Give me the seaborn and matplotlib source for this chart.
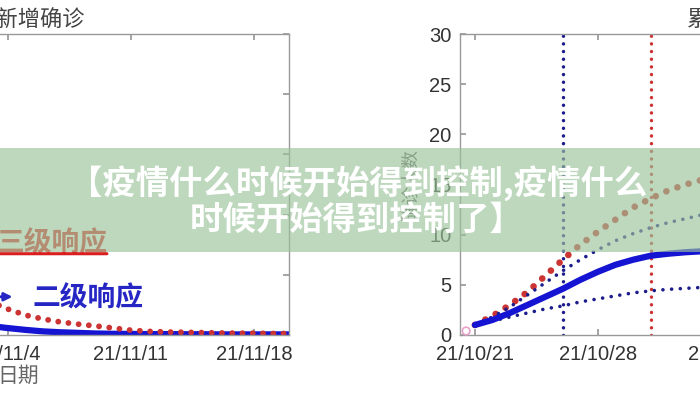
import pandas as pd
import matplotlib.pyplot as plt
from matplotlib.patches import Rectangle
import seaborn as sns

# cumulative confirmed cases (right panel), one value per day from 2021-10-21
cum_dates = pd.date_range("2021-10-21", periods=15)
cum_fit = [1.0, 1.5, 2.2, 3.0, 3.8, 4.6, 5.5, 6.3, 7.0, 7.5, 7.9, 8.1, 8.25, 8.35, 8.4]
cum_upper = [1.0, 1.8, 2.8, 4.0, 5.2, 6.4, 7.5, 8.5, 9.4, 10.1, 10.7, 11.2, 11.6, 12.0, 12.3]
cum_lower = [1.0, 1.4, 1.8, 2.2, 2.6, 2.9, 3.3, 3.6, 3.9, 4.2, 4.4, 4.55, 4.65, 4.75, 4.8]
cum_no_control = [1.0, 1.9, 3.0, 4.3, 5.9, 7.5, 9.0, 10.3, 11.5, 12.7, 13.6, 14.4, 15.0, 15.5, 15.9]
first_obs_date = pd.Timestamp("2021-10-20 12:00")
first_obs_value = 0.4

# daily new cases (left panel), one value per day from 2021-11-03
new_dates = pd.date_range("2021-11-03", periods=18)
new_fit = [3.0, 2.3, 1.7, 1.2, 0.9, 0.7, 0.5, 0.4, 0.35, 0.3, 0.3, 0.25, 0.25, 0.2, 0.2, 0.2, 0.2, 0.2]
new_no_control = [11.0, 8.6, 6.6, 5.3, 4.3, 3.6, 3.0, 2.3, 1.6, 1.2, 1.0, 0.9, 0.8, 0.7, 0.6, 0.6, 0.5, 0.5]

# response levels
level2_date = pd.Timestamp("2021-10-26")
level3_date = pd.Timestamp("2021-10-31")

tick_dates = pd.to_datetime(["2021-10-21", "2021-10-28", "2021-11-04", "2021-11-11", "2021-11-18"])
tick_labels = ["21/10/21", "21/10/28", "21/11/4", "21/11/11", "21/11/18"]
x_range = (pd.Timestamp("2021-10-20 03:36"), pd.Timestamp("2021-11-20"))

sns.set_theme(style="ticks")
plt.rcParams["font.family"] = ["Liberation Sans", "Noto Sans CJK SC", "DejaVu Sans"]

blue = "#1414d2"
navy = "#1c1c8c"
red = "#cc3434"
dots = (0, (0.01, 1.75))

fig = plt.figure(figsize=(7, 4), dpi=100)
ax_new = fig.add_axes([-0.3614, 0.1625, 0.7743, 0.7525])
ax_cum = fig.add_axes([0.6571, 0.1625, 0.7743, 0.7525])

# left: daily new cases
sns.lineplot(x=new_dates, y=new_fit, ax=ax_new, color=blue, lw=4.5)
sns.lineplot(x=new_dates, y=new_no_control, ax=ax_new, color=red, lw=4.2,
             linestyle=dots, dash_capstyle="round")
ax_new.axvline(level2_date, color=navy, lw=2.5, linestyle=(0, (0.01, 2.2)), dash_capstyle="round")
ax_new.axvline(level3_date, color=red, lw=2.5, linestyle=(0, (0.01, 2.2)), dash_capstyle="round")
ax_new.set_ylim(0, 100)
ax_new.set_yticks(range(0, 101, 20))
ax_new.set_title("每日新增确诊", fontsize=16, color="#444", pad=5)

ax_new.text(pd.Timestamp("2021-11-06 12:00"), 30.0, "三级响应", color="#e02828",
            fontsize=20, fontweight="bold", ha="center", va="center")
ax_new.annotate("", xy=(pd.Timestamp("2021-11-01"), 27), xytext=(pd.Timestamp("2021-11-09 19:00"), 27),
                arrowprops=dict(arrowstyle="-|>", color="#d81e1e", lw=2.2))
ax_new.text(pd.Timestamp("2021-11-08 14:00"), 12, "二级响应", color="#2626c4",
            fontsize=20, fontweight="bold", ha="center", va="center")
ax_new.annotate("", xy=(pd.Timestamp("2021-11-04 10:00"), 12.7), xytext=(pd.Timestamp("2021-11-02"), 12.7),
                arrowprops=dict(arrowstyle="-|>", color="#2626c4", lw=2))

# right: cumulative cases
ax_cum.axvline(level2_date, color=navy, lw=2.5, linestyle=(0, (0.01, 2.2)), dash_capstyle="round")
ax_cum.axvline(level3_date, color=red, lw=2.5, linestyle=(0, (0.01, 2.2)), dash_capstyle="round")
sns.lineplot(x=cum_dates, y=cum_no_control, ax=ax_cum, color=red, lw=4.8,
             linestyle=dots, dash_capstyle="round")
sns.lineplot(x=cum_dates, y=cum_upper, ax=ax_cum, color=navy, lw=2.6,
             linestyle=(0, (0.01, 2.4)), dash_capstyle="round")
sns.lineplot(x=cum_dates, y=cum_lower, ax=ax_cum, color=navy, lw=2.6,
             linestyle=(0, (0.01, 2.4)), dash_capstyle="round")
sns.lineplot(x=cum_dates, y=cum_fit, ax=ax_cum, color=blue, lw=4.5)
ax_cum.scatter([first_obs_date], [first_obs_value], s=30, facecolor="none",
               edgecolor="#e8a0c8", lw=1.2, zorder=5, clip_on=False)
ax_cum.set_ylim(0, 30)
ax_cum.set_yticks(range(0, 31, 5))
ax_cum.set_title("累计确诊", fontsize=16, color="#444", pad=5)
ax_cum.set_ylabel("确诊人数", fontsize=13, color="#666", labelpad=6)

for ax in (ax_new, ax_cum):
    ax.set_xlim(*x_range)
    ax.set_xticks(tick_dates)
    ax.set_xticklabels(tick_labels)
    ax.set_xlabel("日期", fontsize=15, color="#666", labelpad=2)
    for side in ax.spines.values():
        side.set_visible(True)
        side.set_color("#999")
        side.set_linewidth(1)
    ax.tick_params(direction="in", top=True, right=True, length=4, color="#999",
                   labelcolor="#333", labelsize=14.5)
    ax.tick_params(axis="x", pad=7)
    ax.tick_params(axis="y", pad=6)

# overlay banner
fig.add_artist(Rectangle((0, 0.37), 1, 0.26, transform=fig.transFigure,
                         facecolor="#9bc39b", alpha=0.65, edgecolor="none", zorder=10))
fig.text(0.512, 0.5425, "【疫情什么时候开始得到控制,疫情什么", color="white", fontsize=24,
         fontweight="heavy", ha="center", va="center", zorder=11,
         family=["Noto Sans CJK SC", "DejaVu Sans"])
fig.text(0.51, 0.45, "时候开始得到控制了】", color="white", fontsize=24,
         fontweight="heavy", ha="center", va="center", zorder=11,
         family=["Noto Sans CJK SC", "DejaVu Sans"])

fig.savefig("out.png", dpi=100)
